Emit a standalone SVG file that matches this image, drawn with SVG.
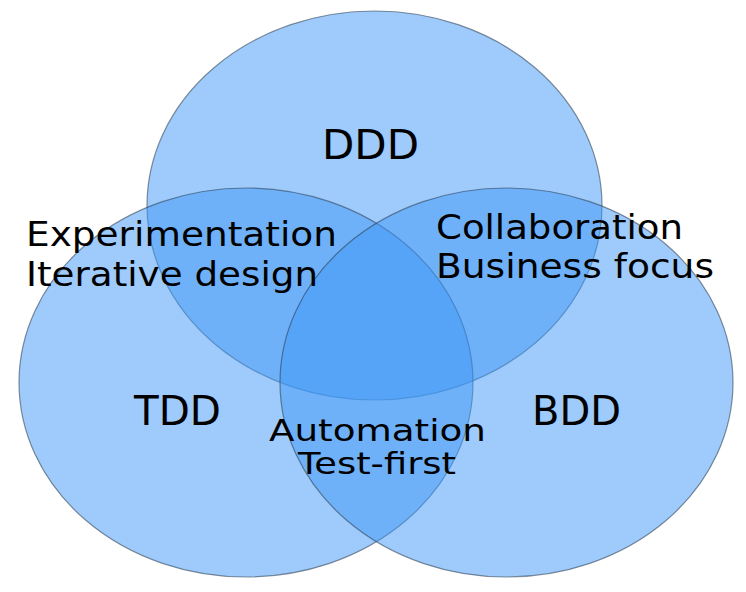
<svg xmlns="http://www.w3.org/2000/svg" width="746" height="592" viewBox="0 0 746 592">
<style>
.set{fill:#3d97f7;fill-opacity:0.5;stroke:#2a3a4a;stroke-opacity:0.55;stroke-width:1.2}
.lbl{font-family:"DejaVu Sans",Verdana,sans-serif;fill:#000}
.big{font-size:40px}
.sm{font-size:33px}
.xs{font-size:31px}
</style>
<rect width="746" height="592" fill="#fff"/>
<g id="ddd"><ellipse class="set" cx="374.5" cy="205.5" rx="227.5" ry="194.5"/></g>
<g id="tdd"><ellipse class="set" cx="246" cy="382.5" rx="227" ry="194.5"/></g>
<g id="bdd"><ellipse class="set" cx="506.5" cy="382.5" rx="226.5" ry="194.5"/></g>
<g id="connectors"></g>
<g id="labels">
<text class="lbl big" x="322" y="159" textLength="97" lengthAdjust="spacingAndGlyphs">DDD</text>
<text class="lbl big" x="134" y="425" textLength="87" lengthAdjust="spacingAndGlyphs">TDD</text>
<text class="lbl big" x="532" y="425" textLength="89" lengthAdjust="spacingAndGlyphs">BDD</text>
<text class="lbl sm" x="26" y="246" textLength="311" lengthAdjust="spacingAndGlyphs">Experimentation</text>
<text class="lbl sm" x="26" y="286" textLength="292" lengthAdjust="spacingAndGlyphs">Iterative design</text>
<text class="lbl sm" x="436" y="239" textLength="247" lengthAdjust="spacingAndGlyphs">Collaboration</text>
<text class="lbl sm" x="436" y="278" textLength="278" lengthAdjust="spacingAndGlyphs">Business focus</text>
<text class="lbl xs" x="269" y="441" textLength="217" lengthAdjust="spacingAndGlyphs">Automation</text>
<text class="lbl xs" x="298" y="474" textLength="158" lengthAdjust="spacingAndGlyphs">Test-first</text>
</g>
</svg>
